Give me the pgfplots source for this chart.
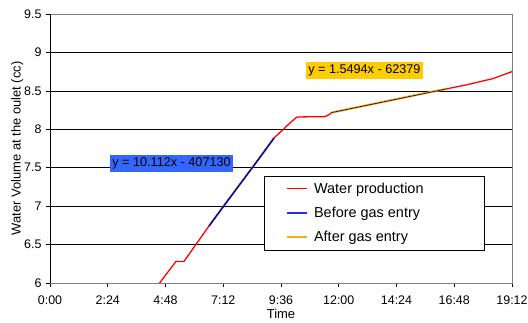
\documentclass[border=0pt]{standalone}
\usepackage{pgfplots}
\pgfplotsset{compat=1.18}
\usepackage{fontspec}
\setmainfont{Liberation Sans}

\definecolor{watered}{RGB}{255,0,0}
\definecolor{beforeblue}{RGB}{40,40,255}
\definecolor{afterorange}{RGB}{255,165,40}
\definecolor{eqblue}{RGB}{51,102,255}
\definecolor{eqyellow}{RGB}{255,204,0}
\definecolor{framegray}{RGB}{128,128,128}

% Time in minutes since start, volume in cc
\pgfplotstableread{
t     v
266   5.95
314   6.28
334   6.28
396.5 6.742
440   7.05
480   7.33
520   7.61
558.6 7.888
580   7.99
600   8.09
616   8.16
686   8.165
696   8.19
702   8.217
760   8.28
820   8.345
880   8.41
940   8.475
993   8.53
1040  8.58
1105  8.66
1152  8.75
}\water

\pgfplotstableread{
t     v
396.5 6.742
440   7.05
480   7.33
520   7.61
558.6 7.888
}\before

\pgfplotstableread{
t     v
702   8.217
760   8.28
820   8.345
880   8.41
940   8.475
993   8.53
}\after

\begin{document}
\begin{tikzpicture}
\begin{axis}[
  scale only axis,
  width=462bp, height=269bp,
  xmin=0, xmax=1152, ymin=6, ymax=9.5,
  xtick={0,144,288,432,576,720,864,1008,1152},
  xticklabels={0:00,2:24,4:48,7:12,9:36,12:00,14:24,16:48,19:12},
  ytick={6,6.5,7,7.5,8,8.5,9,9.5},
  yticklabels={6,6.5,7,7.5,8,8.5,9,9.5},
  tick align=outside,
  major tick length=4bp,
  tick style={black, line width=0.6pt},
  xtick pos=bottom, ytick pos=left,
  ymajorgrids,
  grid style={black, line width=0.6pt},
  axis line style={draw=framegray, line width=0.9pt},
  tick label style={font=\fontsize{12.5}{14}\selectfont},
  xticklabel style={yshift=-5bp},
  yticklabel style={xshift=-1bp},
  xlabel={Time},
  ylabel={Water Volume at the oulet (cc)},
  label style={font=\fontsize{13}{15}\selectfont},
  xlabel style={yshift=2bp},
  ylabel style={yshift=-6bp},
  clip=true,
  legend cell align=left,
  legend image code/.code={\draw[#1] (0bp,0bp) -- (20bp,0bp);},
  legend style={
    name=lgd,
    at={(rel axis cs:0.463,0.398)}, anchor=north west,
    draw=none, fill=white,
    font=\fontsize{14.5}{16}\selectfont,
    inner xsep=22bp, inner ysep=4.5bp,
    row sep=8.5bp,
    /tikz/every odd column/.style={column sep=4bp},
  },
]
\addplot[watered, line width=1.3pt] table[x=t, y=v] {\water};
\addlegendentry{\makebox[146bp][l]{Water production}}
\addplot[beforeblue, line width=1.7pt] table[x=t, y=v] {\before};
\addlegendentry{Before gas entry}
\addplot[afterorange, line width=2pt] table[x=t, y=v] {\after};
\addlegendentry{After gas entry}
% linear trendlines over the two fitted segments
\addplot[black, line width=0.55pt, forget plot] coordinates {(396.5,6.742) (558.6,7.880)};
\addplot[black, line width=0.55pt, forget plot] coordinates {(702,8.217) (993,8.530)};
% plot area frame: gray top and right, black value axis
\draw[framegray, line width=0.9pt] (rel axis cs:0,1) -- (rel axis cs:1,1) -- (rel axis cs:1,0);
\draw[black, line width=0.9pt] (rel axis cs:0,0) -- (rel axis cs:0,1);
% trendline equations
\node[fill=eqblue, inner xsep=2bp, inner ysep=3bp, font=\fontsize{12.7}{14}\selectfont]
  at (axis cs:303,7.555) {y = 10.112x - 407130};
\node[fill=eqyellow, inner xsep=2bp, inner ysep=3bp, font=\fontsize{12.7}{14}\selectfont]
  at (axis cs:784,8.765) {y = 1.5494x - 62379};
\coordinate (sw) at (rel axis cs:0,0);
\coordinate (ne) at (rel axis cs:1,1);
\end{axis}
\draw[black, line width=0.6pt] (lgd.south west) rectangle (lgd.north east);
\pgfresetboundingbox
\path ([shift={(-50bp,-40bp)}]sw) rectangle ([shift={(16bp,14bp)}]ne);
\end{tikzpicture}
\end{document}
